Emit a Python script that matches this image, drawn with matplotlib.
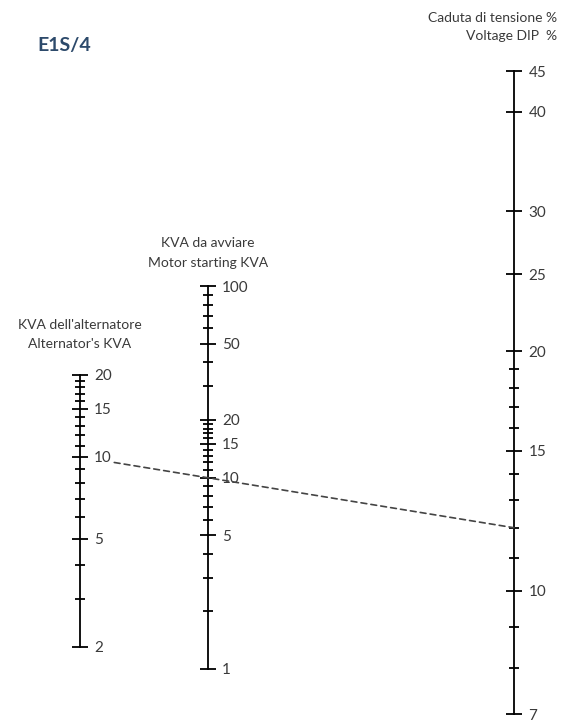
import matplotlib
matplotlib.use('Agg')
import matplotlib.pyplot as plt
from matplotlib.patches import ConnectionPatch
from matplotlib.ticker import NullFormatter

plt.rcParams['font.family'] = ['Lato', 'DejaVu Sans']

# left scale: alternator KVA
alt_major = [2, 5, 10, 15, 20]
alt_minor = [3, 4, 6, 7, 8, 9, 11, 12, 13, 14, 16, 17, 18, 19]

# middle scale: motor starting KVA
mot_major = [1, 5, 10, 15, 20, 50, 100]
mot_minor = [2, 3, 4, 6, 7, 8, 9, 11, 12, 13, 14, 16, 17, 18, 19,
             30, 40, 60, 70, 80, 90]

# right scale: voltage dip %
dip_major = [7, 10, 15, 20, 25, 30, 40, 45]
dip_minor = [8, 9, 11, 12, 13, 14, 16, 17, 18, 19]

# example reading (dashed line)
ex_alt = 10
ex_dip = 12

W, H = 565, 722
fig = plt.figure(figsize=(W / 100, H / 100), dpi=100)
fig.patch.set_facecolor('white')

txt_color = '#3a3a3a'


def make_scale(x_px, top_px, bottom_px, lo, hi, major, minor, big=11, small=6.5):
    # thin axes, only the right spine is drawn as the scale line
    w = 0.01
    ax = fig.add_axes([x_px / W - w, 1 - bottom_px / H, w, (bottom_px - top_px) / H])
    ax.set_yscale('log')
    ax.set_ylim(lo, hi)
    ax.set_xlim(0, 1)
    ax.patch.set_visible(False)
    for s in ['left', 'top', 'bottom']:
        ax.spines[s].set_visible(False)
    ax.spines['right'].set_linewidth(1.3)
    ax.set_xticks([])
    ax.yaxis.tick_right()
    ax.set_yticks(major, labels=[str(v) for v in major])
    ax.set_yticks(minor, minor=True)
    ax.yaxis.set_minor_formatter(NullFormatter())
    ax.tick_params(axis='y', which='major', direction='inout', length=big, width=1.3,
                   pad=4.5, labelsize=11, labelcolor=txt_color)
    ax.tick_params(axis='y', which='minor', direction='inout', length=small, width=1.3)
    for lab in ax.get_yticklabels():
        lab.set_clip_on(False)
    return ax


ax_alt = make_scale(80, 375, 647, 2, 20, alt_major, alt_minor)
ax_mot = make_scale(208, 286, 669, 1, 100, mot_major, mot_minor)
ax_dip = make_scale(514, 71, 714, 7, 45, dip_major, dip_minor, big=12, small=7)

# dashed reading line from alternator scale to dip scale
con = ConnectionPatch(xyA=(1, ex_alt), coordsA='data', axesA=ax_alt,
                      xyB=(1, ex_dip), coordsB='data', axesB=ax_dip,
                      linestyle=(0, (3.5, 2.5)), color='#444444', lw=1.2,
                      shrinkA=25, shrinkB=0)
fig.add_artist(con)

# titles of the scales
fig.text(80 / W, 1 - 325 / H, "KVA dell'alternatore", ha='center', va='center',
         fontsize=10, color=txt_color)
fig.text(80 / W, 1 - 344 / H, "Alternator's KVA", ha='center', va='center',
         fontsize=10, color=txt_color)
fig.text(208 / W, 1 - 243 / H, "KVA da avviare", ha='center', va='center',
         fontsize=10, color=txt_color)
fig.text(208 / W, 1 - 263 / H, "Motor starting KVA", ha='center', va='center',
         fontsize=10, color=txt_color)
fig.text(557 / W, 1 - 18 / H, "Caduta di tensione %", ha='right', va='center',
         fontsize=10, color=txt_color)
fig.text(557 / W, 1 - 36 / H, "Voltage DIP  %", ha='right', va='center',
         fontsize=10, color=txt_color)

fig.text(37 / W, 1 - 46 / H, 'E1S/4', ha='left', va='center', fontsize=14,
         fontweight='bold', color='#2d4a6b', family=['Lato', 'DejaVu Sans'])

fig.savefig('out.png', dpi=100, facecolor='white')
